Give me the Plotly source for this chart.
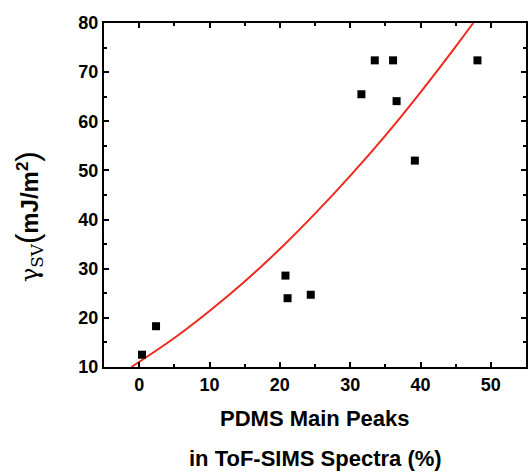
import plotly.graph_objects as go

# measured data points
pdms_x = [0.4, 2.4, 20.8, 21.1, 24.4, 31.6, 33.5, 36.1, 36.6, 39.2, 48.1]
gamma_y = [12.5, 18.3, 28.6, 24.0, 24.7, 65.5, 72.4, 72.4, 64.1, 52.0, 72.4]

# fitted curve
fit_x = [-1.1, 5, 10, 15, 20, 25, 30, 35, 40, 45, 47.5]
fit_y = [10.0, 15.9, 21.4, 27.4, 34.0, 41.2, 48.9, 57.1, 65.9, 75.2, 80.0]

x_ticks = [0, 10, 20, 30, 40, 50]
y_ticks = [10, 20, 30, 40, 50, 60, 70, 80]

FONT = "Liberation Sans, Arial, sans-serif"

fig = go.Figure()
fig.add_trace(go.Scatter(x=fit_x, y=fit_y, mode="lines",
                         line=dict(color="#ee2a1e", width=2, shape="spline"),
                         showlegend=False))
fig.add_trace(go.Scatter(x=pdms_x, y=gamma_y, mode="markers",
                         marker=dict(symbol="square", size=8, color="black"),
                         showlegend=False))

axis_common = dict(showgrid=False, zeroline=False, ticks="inside", ticklen=5,
                   tickwidth=2, tickcolor="black", linewidth=2, linecolor="black",
                   mirror="ticks", showline=True,
                   tickfont=dict(family=FONT, size=18, color="black", weight="bold"))

fig.update_xaxes(range=[-5, 55], tickvals=x_ticks, **axis_common,
                 minor=dict(ticks="inside", ticklen=3, tickwidth=2, dtick=5, tick0=0,
                            tickcolor="black", showgrid=False))
fig.update_yaxes(range=[10, 80], tickvals=y_ticks, **axis_common,
                 minor=dict(ticks="inside", ticklen=3, tickwidth=2, dtick=5, tick0=0,
                            tickcolor="black", showgrid=False))

ytitle = ("<span style='font-family:DejaVu Serif;font-weight:normal;font-size:24px'>γ"
          "<sub>SV</sub></span>"
          "<span style='font-weight:normal;font-size:31px'>(</span>"
          "<b>mJ/m<sup>2</sup></b>"
          "<span style='font-weight:normal;font-size:31px'>)</span>")

fig.update_layout(
    width=530, height=473,
    margin=dict(l=104, r=2, t=23, b=106),
    paper_bgcolor="white", plot_bgcolor="white",
    annotations=[
        dict(text="PDMS Main Peaks", xref="paper", yref="paper", x=0.5, y=-0.151,
             xanchor="center", yanchor="middle", showarrow=False,
             font=dict(family=FONT, size=22, color="black", weight="bold")),
        dict(text="in ToF-SIMS Spectra (%)", xref="paper", yref="paper", x=0.5, y=-0.267,
             xanchor="center", yanchor="middle", showarrow=False,
             font=dict(family=FONT, size=22, color="black", weight="bold")),
        dict(text=ytitle, xref="paper", yref="paper", x=-0.18, y=0.436,
             xanchor="center", yanchor="middle", showarrow=False, textangle=-90,
             font=dict(family=FONT, size=24, color="black", weight="bold")),
    ],
)

fig.write_html("out.html",
               config={"displayModeBar": False},
               post_script="document.body.style.margin='0';"
                           "document.body.style.padding='0';"
                           "document.body.style.overflow='hidden';")
